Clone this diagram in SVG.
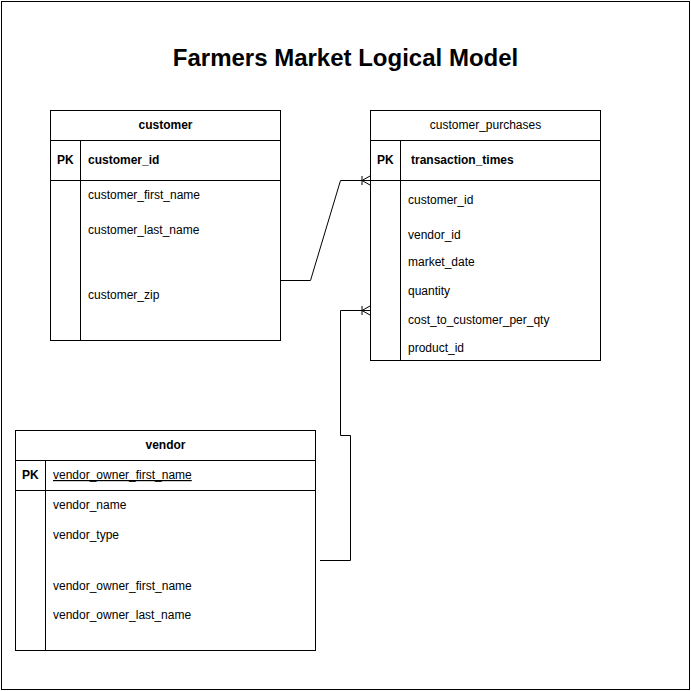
<svg xmlns="http://www.w3.org/2000/svg" width="691" height="691" viewBox="0 0 691 691">
<style>
  .box{fill:#fff;stroke:#000;stroke-width:1}
  .ln{fill:none;stroke:#000;stroke-width:1}
  text{font-family:"Liberation Sans",Arial,sans-serif;font-size:12px;fill:#000}
  .b{font-weight:bold}
  .title{font-size:24px;font-weight:bold}
  .c{text-anchor:middle}
</style>
<defs>
  <marker id="many" markerWidth="12" markerHeight="12" refX="10" refY="6" orient="auto" markerUnits="userSpaceOnUse">
    <path d="M2,1.5 V10.5 M2,6 L10,1.5 M2,6 L10,10.5" fill="none" stroke="#000" stroke-width="1"/>
  </marker>
</defs>
<rect x="0" y="0" width="691" height="691" fill="#fff"/>
<rect x="1.5" y="1.5" width="688" height="688" class="ln"/>
<text x="345.5" y="66" class="title c">Farmers Market Logical Model</text>

<g id="connectors">
  <path d="M280,280.5 H310.5 L340.5,180.5 H370" class="ln" marker-end="url(#many)"/>
  <path d="M320,560.5 H350.5 V435.5 H340.5 V310.5 H370" class="ln" marker-end="url(#many)"/>
</g>

<g id="customer">
  <rect x="50.5" y="110.5" width="230" height="230" class="box"/>
  <line x1="50.5" y1="140.5" x2="280.5" y2="140.5" class="ln"/>
  <line x1="50.5" y1="180.5" x2="280.5" y2="180.5" class="ln"/>
  <line x1="80.5" y1="140.5" x2="80.5" y2="340.5" class="ln"/>
  <text x="165.5" y="129" class="b c">customer</text>
  <text x="57" y="164" class="b">PK</text>
  <text x="88" y="164" class="b">customer_id</text>
  <text x="88" y="199">customer_first_name</text>
  <text x="88" y="234">customer_last_name</text>
  <text x="88" y="299">customer_zip</text>
</g>

<g id="customer_purchases">
  <rect x="370.5" y="110.5" width="230" height="250" class="box"/>
  <line x1="370.5" y1="140.5" x2="600.5" y2="140.5" class="ln"/>
  <line x1="370.5" y1="180.5" x2="600.5" y2="180.5" class="ln"/>
  <line x1="400.5" y1="140.5" x2="400.5" y2="360.5" class="ln"/>
  <text x="485.5" y="129" class="c">customer_purchases</text>
  <text x="377" y="164" class="b">PK</text>
  <text x="411" y="164" class="b">transaction_times</text>
  <text x="408" y="204">customer_id</text>
  <text x="408" y="239">vendor_id</text>
  <text x="408" y="266">market_date</text>
  <text x="408" y="295">quantity</text>
  <text x="408" y="324">cost_to_customer_per_qty</text>
  <text x="408" y="352">product_id</text>
</g>

<g id="vendor">
  <rect x="15.5" y="430.5" width="300" height="220" class="box"/>
  <line x1="15.5" y1="460.5" x2="315.5" y2="460.5" class="ln"/>
  <line x1="15.5" y1="490.5" x2="315.5" y2="490.5" class="ln"/>
  <line x1="45.5" y1="460.5" x2="45.5" y2="650.5" class="ln"/>
  <text x="165.5" y="449" class="b c">vendor</text>
  <text x="22" y="479" class="b">PK</text>
  <text x="53" y="479" text-decoration="underline">vendor_owner_first_name</text>
  <text x="53" y="509">vendor_name</text>
  <text x="53" y="539">vendor_type</text>
  <text x="53" y="590">vendor_owner_first_name</text>
  <text x="53" y="619">vendor_owner_last_name</text>
</g>
</svg>
